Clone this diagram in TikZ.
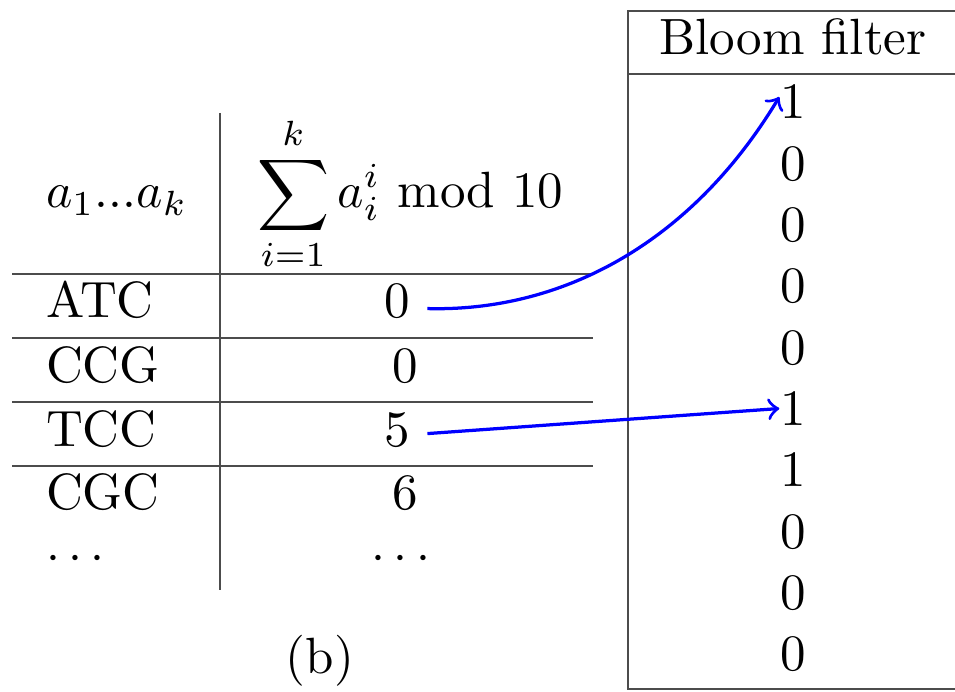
\documentclass[tikz,border=0pt]{standalone}
\usepackage{amsmath}
\begin{document}
\begin{tikzpicture}[x=0.2pt,y=-0.2pt,
  every node/.style={font=\fontsize{10.2pt}{12pt}\selectfont},
  rule/.style={draw=black!70,line width=0.45pt},
  cell/.style={anchor=base,inner sep=0pt},
  lcell/.style={anchor=base west,inner sep=0pt},
  val/.style={anchor=base},
  arr/.style={draw=blue,line width=0.65pt,->}]
\useasboundingbox (0,0) rectangle (955,691);
% table rules
\draw[rule] (220,113) -- (220,590);
\foreach \yy in {274,338,402,466} \draw[rule] (12,\yy) -- (593,\yy);
% header
\node[lcell] (hA) at (45,208) {$a_1 ... a_k$};
\node[lcell] (hS) at (256,208) {$\displaystyle\sum_{i=1}^{k} a_i^i$ mod 10};
% rows
\node[lcell] (k1) at (45,318) {ATC};
\node[lcell] (k2) at (45,382) {CCG};
\node[lcell] (k3) at (45,446) {TCC};
\node[lcell] (k4) at (45,509) {CGC};
\node[lcell] (k5) at (45,570) {$\cdots$};
\node[val] (v1) at (397,318) {0};
\node[val] (v2) at (405,382) {0};
\node[val] (v3) at (397,446) {5};
\node[val] (v4) at (405,509) {6};
\node[cell] (v5) at (405,570) {$\cdots$};
\node[cell] (cap) at (320,673) {(b)};
% Bloom filter box
\draw[rule] (960,11) -- (628,11) -- (628,689) -- (960,689);
\draw[rule] (628,74) -- (960,74);
\node[cell] (bh) at (793,55) {Bloom filter};
\foreach \v [count=\i from 0] in {1,0,0,0,0,1,1,0,0,0}
  \node[cell] (b\i) at (793,{119+61.3*\i}) {\v};
% arrows
\draw[arr] ([yshift=-1.4pt]v1.east) .. controls (560,312) and (690,245) .. ([yshift=1pt]b0.west);
\draw[arr] ([yshift=-0.8pt]v3.east) -- (b5.west);
\end{tikzpicture}
\end{document}
